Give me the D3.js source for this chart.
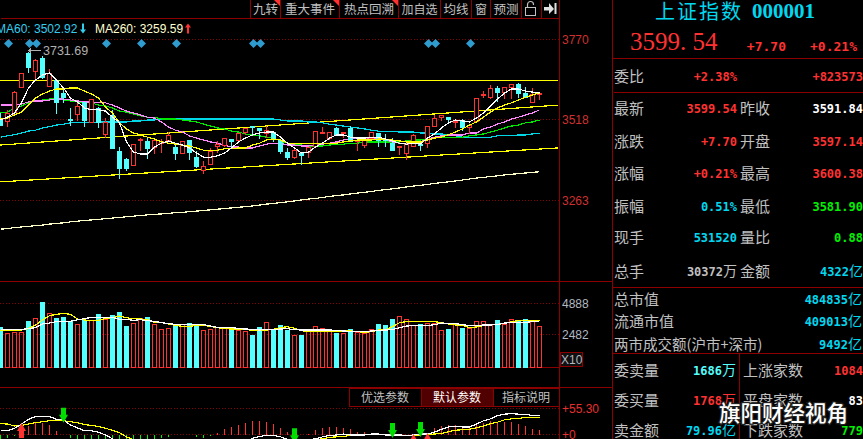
<!DOCTYPE html>
<html>
<head>
<meta charset="utf-8">
<title>上证指数 000001</title>
<script src="https://cdn.jsdelivr.net/npm/d3@7"></script>
<style>
  html, body { margin: 0; padding: 0; background: #000; overflow: hidden; }
  svg { display: block; }
  text { font-family: "Liberation Sans", sans-serif; }
  .cjk { font-family: "Noto Sans CJK SC", sans-serif; }
  .mono { font-family: "DejaVu Sans Mono", monospace; font-weight: bold; }
  .serif { font-family: "Liberation Serif", serif; }
</style>
</head>
<body>
<svg id="chart" width="863" height="439"></svg>
<script>
/* ── Daily candles, index points ───────────────────────────────────── */
const opens = [3516,3510,3532,3620,3727,3670,3711,3623,3639,3601,3519,3532,3570,3507,3551,3469,3529,3418,3393,3374,
  3450,3447,3428,3443,3453,3428,3409,3450,3399,3358,3377,3434,3437,3456,3450,3478,3494,3488,3472,3478,
  3450,3415,3399,3412,3415,3434,3472,3459,3488,3472,3488,3447,3437,3459,3472,3455,3443,3431,3412,3434,
  3439,3443,3494,3525,3525,3507,3513,3491,3510,3592,3588,3614,3604,3617,3629,3601,3570,3597.14];
const highs = [3541,3548,3610,3667,3731.69,3711,3718,3677,3648,3617,3554,3570,3573,3582,3557,3525,3548,3434,3399,3440,
  3462,3462,3453,3459,3481,3443,3447,3450,3421,3387,3428,3453,3462,3456,3475,3491,3494,3488,3500,3478,
  3459,3428,3425,3412,3428,3484,3497,3481,3494,3481,3500,3459,3462,3481,3475,3475,3462,3433,3453,3472,
  3447,3494,3532,3532,3525,3522,3522,3500,3585,3610,3629,3626,3617,3629,3633,3623,3620,3600.38];
const lows = [3500,3497,3529,3620,3667,3642,3648,3623,3535,3570,3500,3516,3494,3507,3491,3462,3425,3333,3358,3374,
  3421,3396,3409,3415,3453,3393,3409,3393,3365,3349,3377,3415,3431,3425,3447,3469,3472,3459,3462,3447,
  3409,3393,3396,3377,3399,3434,3472,3456,3469,3462,3447,3421,3428,3456,3431,3431,3421,3406,3390,3431,
  3421,3428,3494,3516,3507,3491,3484,3475,3507,3588,3585,3573,3585,3585,3588,3588,3570,3581.90];
const closes = [3500,3538,3604,3661,3680,3702,3651,3661,3570,3588,3514,3557,3513,3582,3507,3507,3425,3362,3362,3440,
  3456,3425,3450,3448,3466,3409,3447,3415,3368,3368,3418,3440,3459,3447,3472,3488,3491,3484,3484,3456,
  3418,3399,3421,3403,3428,3481,3478,3478,3469,3478,3447,3450,3459,3478,3450,3451,3421,3433,3440,3466,
  3437,3494,3522,3529,3517,3510,3491,3500,3585,3596,3614,3604,3617,3629,3601,3588,3595,3599.54];

/* ── Moving averages ───────────────────────────────────────────────── */
const ma5 = [3516,3525,3538,3570,3617,3642,3658,3664,3642,3617,3585,3573,3554,3548,3548,3544,3525,3507,3447,3415,
  3409,3409,3431,3443,3450,3443,3437,3428,3412,3399,3399,3403,3412,3428,3447,3459,3469,3475,3478,3478,
  3462,3443,3428,3412,3415,3431,3443,3459,3469,3469,3462,3459,3459,3462,3462,3456,3450,3443,3440,3443,
  3440,3459,3472,3491,3507,3516,3513,3510,3522,3538,3560,3582,3601,3614,3614,3607,3604,3601];
const ma10 = [3519,3522,3532,3541,3563,3585,3598,3607,3614,3614,3617,3617,3607,3598,3585,3557,3538,3507,3488,3475,
  3469,3462,3456,3447,3443,3440,3437,3434,3428,3421,3421,3421,3425,3425,3428,3428,3437,3443,3453,3456,
  3453,3443,3443,3443,3443,3443,3443,3443,3443,3447,3450,3453,3453,3453,3456,3456,3453,3450,3447,3447,
  3447,3453,3459,3462,3470,3478,3488,3500,3510,3525,3541,3554,3563,3570,3579,3588,3595,3601];
const ma20 = [3563,3563,3563,3566,3573,3576,3576,3579,3582,3582,3579,3576,3573,3573,3570,3570,3563,3554,3544,3538,
  3532,3525,3522,3510,3494,3484,3478,3466,3459,3453,3447,3443,3437,3431,3431,3428,3428,3434,3440,3443,
  3443,3437,3437,3434,3434,3437,3440,3443,3447,3453,3456,3459,3459,3459,3459,3453,3447,3443,3443,3443,
  3447,3456,3462,3466,3469,3469,3469,3475,3475,3488,3494,3503,3510,3519,3525,3532,3538,3548];
const ma30 = [3538,3541,3554,3560,3570,3576,3579,3582,3582,3579,3576,3573,3570,3570,3563,3560,3554,3544,3541,3535,
  3529,3525,3525,3519,3519,3519,3516,3513,3510,3503,3497,3491,3488,3481,3478,3472,3469,3466,3462,3459,
  3450,3443,3440,3437,3434,3434,3434,3437,3440,3440,3443,3443,3447,3447,3447,3447,3447,3447,3450,3453,
  3453,3456,3459,3462,3462,3462,3462,3466,3469,3472,3478,3484,3491,3497,3500,3507,3510,3516];
const ma60 = [3462,3466,3470,3475,3481,3484,3491,3495,3500,3503,3507,3507,3507,3507,3510,3510,3510,3510,3510,3513,
  3513,3516,3516,3519,3519,3519,3519,3519,3519,3519,3519,3519,3519,3519,3519,3519,3519,3519,3519,3519,
  3516,3513,3513,3513,3510,3510,3507,3503,3500,3497,3494,3491,3488,3484,3481,3481,3481,3478,3478,3478,
  3475,3475,3472,3472,3469,3466,3462,3462,3462,3462,3462,3466,3466,3466,3469,3469,3472,3475];
const ma260 = [3172,3174,3177,3179,3181,3183,3185,3188,3190,3192,3195,3197,3200,3201,3203,3205,3207,3209,3211,3213,
  3215,3217,3219,3220,3222,3224,3225,3227,3229,3231,3233,3235,3237,3239,3241,3243,3245,3248,3251,3253,
  3256,3258,3261,3264,3267,3269,3272,3275,3278,3280,3283,3286,3288,3291,3294,3297,3299,3302,3305,3308,
  3310,3313,3316,3319,3321,3324,3327,3330,3333,3335,3338,3340,3343,3345,3347,3349,3351,3353];

// straight lines the user drew on the chart: [price at left edge, price at right edge]
const trendTop = [3640, 3640];
const trendMid = [3437, 3563];
const trendLow = [3321, 3428];

/* ── Volume pane ───────────────────────────────────────────────────── */
const volumes = [3073,2591,2667,2667,3531,3734,4978,4115,3759,3835,3480,3277,3556,3556,4064,3658,3988,4216,3150,3353,
  3734,3835,3302,2896,2972,3226,3302,3353,3175,2845,2896,3023,2946,3023,2845,2769,2464,3073,3429,2845,
  3226,2845,2464,2464,2718,3150,2972,2718,2616,2591,2921,2642,2591,2921,3302,3226,3683,3912,3658,3226,
  3302,3353,3353,2845,2921,3277,2972,2972,3505,3505,3277,3607,3277,3658,3607,3683,3480,3150];
const volMaWhite = [2896,2896,2896,2896,2946,3023,3302,3378,3480,3505,3505,3632,3708,3810,3810,3810,3810,3658,3658,3581,
  3632,3556,3505,3404,3327,3277,3277,3251,3251,3251,3150,3048,3048,3048,2946,2921,2896,2845,2870,2870,
  2921,2946,2870,2845,2845,2845,2845,2845,2819,2769,2743,2718,2718,2769,2819,2845,2870,3023,3150,3175,
  3175,3175,3251,3378,3353,3327,3251,3175,3200,3226,3226,3277,3378,3404,3429,3429,3480,3505];
const volMaYellow = [2819,2794,2845,2845,2946,3226,3607,3937,4039,4115,4039,3683,3607,3556,3581,3734,3785,3912,3785,3708,
  3683,3658,3429,3404,3302,3200,3124,3124,3200,3200,3124,3023,2946,2921,2921,2896,2819,2819,2845,2896,
  3023,3099,2972,2794,2718,2718,2718,2718,2718,2769,2769,2718,2667,2718,2845,2845,3099,3404,3480,3480,
  3480,3480,3480,3404,3302,3226,3200,3023,3073,3175,3251,3277,3353,3480,3556,3556,3556,3556];

/* ── MACD pane ─────────────────────────────────────────────────────── */
const macdBars = [-12,-8,-3,3,18,27,25,20,7,-1,-8,-12,-18,-24,-28,-30,-34,-32,-28,-24,
  -18,-14,-9,-8,-5,-2,-1,-1,-5,-7,-3,3,11,16,20,24,28,28,26,22,
  14,5,2,-1,1,9,13,15,16,14,11,6,6,4,4,2,1,0,0,-1,
  -1,1,13,18,19,19,16,16,20,25,29,25,27,27,23,18,11,9];
const macdDif = [8,8,13,22,32,38,38,38,32,31,20,14,8,8,5,-1,-9,-18,-28,-38,
  -44,-48,-49,-46,-42,-40,-40,-38,-38,-38,-36,-32,-28,-24,-20,-15,-8,-4,-2,-2,
  -5,-10,-12,-12,-11,-9,-5,-2,-1,1,-1,-1,-1,1,1,-1,-1,-1,-2,-1,
  1,1,5,11,16,17,16,16,22,29,33,40,43,44,43,43,40,40];
const macdDea = [23,22,18,19,22,25,27,29,30,29,27,25,21,19,17,13,9,4,-5,-11,
  -16,-20,-24,-28,-30,-32,-34,-35,-36,-36,-36,-36,-35,-34,-32,-30,-28,-26,-24,-22,
  -20,-18,-17,-15,-13,-11,-9,-6,-5,-4,-2,-1,-1,0,0,-1,-1,-1,-2,-2,
  -1,0,1,2,6,9,10,11,14,18,23,26,31,33,34,36,36,36];
const macdSellAt = [9, 42, 56, 60];
const macdBuyAt = [3, 59, 61];

// candle indexes carrying a blue diamond event marker
const eventAt = [1, 4, 5, 15, 20, 25, 36, 37, 61, 62, 67];

/* ── Tick labels and texts ─────────────────────────────────────────── */
const priceTicks = [3770, 3518, 3263];
const volTicks = [4888, 2482];
const macdTicks = [55.30, 0];
const toolbarNames = ['九转', '重大事件', '热点回溯', '加自选', '均线', '窗', '预测'];
const paneTabs = ['优选参数', '默认参数', '指标说明'];
const quoteRows = ['最新', '涨跌', '涨幅', '振幅', '现手', '总手'];
const quoteLeft = ['3599.54', '+7.70', '+0.21%', '0.51%', '531520', '30372万'];
const quoteRight = ['昨收', '开盘', '最高', '最低', '量比', '金额'];
const quoteRightVals = ['3591.84', '3597.14', '3600.38', '3581.90', '0.88', '4322亿'];
const marketRows = ['总市值', '流通市值', '两市成交额(沪市+深市)'];
const marketVals = ['484835亿', '409013亿', '9492亿'];
const orderRows = ['委卖量', '委买量', '卖金额'];
const orderVals = ['1686万', '1768万', '79.96亿'];
const breadthRows = ['上涨家数', '平盘家数', '下跌家数'];
const breadthVals = ['1084', '83', '779'];

/* ── Colours ───────────────────────────────────────────────────────── */
const RED = '#ff3232', CYAN = '#54ffff', FRAME = '#8c0000', DOT = '#8c0000',
      GREY = '#c0c0c0', BLUE = '#00d8f0', GREEN = '#00f000', YELLOW = '#ffff00';

const svg = d3.select('#chart');

/* ── Scales ────────────────────────────────────────────────────────── */
const x = d3.scaleLinear().domain([0, 77]).range([0.5, 539.5]);
const yPrice = d3.scaleLinear().domain([3263, 3770]).range([200.3, 39.4]);
const yVol = d3.scaleLinear().domain([0, 4928]).range([367.3, 302.7]);
const yMacd = d3.scaleLinear().domain([0, 55.30]).range([434.5, 408.3]);
const CHART_R = 559, SIDE_L = 612;
const snap = v => Math.round(v - 0.5) + 0.5;

/* ── Frame ─────────────────────────────────────────────────────────── */
function rule(x1, y1, x2, y2, color) {
  svg.append('line').attr('x1', x1).attr('y1', y1).attr('x2', x2).attr('y2', y2)
    .attr('stroke', color || FRAME).attr('shape-rendering', 'crispEdges');
}
rule(0.5, 18.5, CHART_R, 18.5);
rule(0, 281.5, SIDE_L, 281.5);
rule(0, 387.5, SIDE_L, 387.5);
rule(CHART_R + 0.5, 0, CHART_R + 0.5, 439);
rule(SIDE_L + 0.5, 0, SIDE_L + 0.5, 439);
rule(SIDE_L, 58.5, 863, 58.5);
rule(SIDE_L + 2, 92.5, 863, 92.5);
rule(SIDE_L, 287.5, 863, 287.5);
rule(SIDE_L, 353.5, 863, 353.5);
rule(739.5, 353.5, 739.5, 439);

function gridRows(ticks, scale) {
  svg.append('g').selectAll('line').data(ticks).join('line')
    .attr('x1', 0).attr('x2', CHART_R)
    .attr('y1', d => snap(scale(d))).attr('y2', d => snap(scale(d)))
    .attr('stroke', DOT).attr('stroke-dasharray', '1 2')
    .attr('shape-rendering', 'crispEdges');
}
gridRows(priceTicks, yPrice);
gridRows(volTicks, yVol);
gridRows(macdTicks, yMacd);

/* ── Toolbar ───────────────────────────────────────────────────────── */
const toolbarEdges = [250, 280, 339, 398, 440, 471, 490, 521, 541, 559];
const toolbar = svg.append('g');
toolbar.selectAll('line').data(toolbarEdges).join('line')
  .attr('x1', d => d + 0.5).attr('x2', d => d + 0.5).attr('y1', 0).attr('y2', 18)
  .attr('stroke', FRAME).attr('shape-rendering', 'crispEdges');
toolbar.selectAll('text').data(toolbarNames).join('text')
  .attr('class', 'cjk')
  .attr('x', (d, i) => (toolbarEdges[i] + toolbarEdges[i + 1]) / 2 + 0.5)
  .attr('y', 14).attr('text-anchor', 'middle')
  .attr('font-size', (d, i) => i === 3 || i === 5 ? 12 : 12.5)
  .attr('fill', GREY).text(d => d);
// red corner flags on the first three buttons
toolbar.selectAll('path.flag').data(toolbarEdges.slice(1, 4)).join('path')
  .attr('class', 'flag')
  .attr('d', d => `M${d - 6},0L${d},0L${d},6Z`).attr('fill', RED);
// lock and "hide panel" icons
toolbar.append('path')
  .attr('d', 'M527.5,7V4.5a3,3 0 0 1 6,0V5')
  .attr('fill', 'none').attr('stroke', GREY).attr('stroke-width', 1.2);
toolbar.append('rect').attr('x', 525.5).attr('y', 7.5).attr('width', 10).attr('height', 8)
  .attr('fill', 'none').attr('stroke', GREY).attr('shape-rendering', 'crispEdges');
toolbar.append('path')
  .attr('d', 'M544,7H549V3L554,9L549,14V10.5H544ZM554.5,3H556.5V14H554.5Z').attr('fill', '#e0e0e0');

/* ── Legend row and the high marker ────────────────────────────────── */
function arrow(g, cx, tip, dir, color, head, headLen, shaft, len) {
  const s = dir === 'down' ? -1 : 1;
  g.append('path')
    .attr('d', `M${cx},${tip}L${cx + head},${tip + s * headLen}L${cx + shaft},${tip + s * headLen}` +
      `L${cx + shaft},${tip + s * len}L${cx - shaft},${tip + s * len}L${cx - shaft},${tip + s * headLen}` +
      `L${cx - head},${tip + s * headLen}Z`)
    .attr('fill', color);
}
const legend = svg.append('g').attr('font-size', 12);
legend.append('text').attr('x', -4).attr('y', 33).attr('fill', '#33ccee').text('MA60: 3502.92');
arrow(legend, 83, 33.5, 'down', '#33ccee', 3, 4, 1, 10);
legend.append('text').attr('x', 95).attr('y', 33).attr('fill', '#ffffd0').text('MA260: 3259.59');
arrow(legend, 188, 23.5, 'up', RED, 3, 4, 1, 10);

svg.append('path').attr('d', 'M28.5,50.5H41M28.5,50.5L31,48.5M28.5,50.5L31,52.5')
  .attr('stroke', '#b0b0b0').attr('fill', 'none').attr('shape-rendering', 'crispEdges');
svg.append('text').attr('x', 43).attr('y', 54.5).attr('font-size', 12.5).attr('fill', '#b0b0b0').text('3731.69');

svg.append('g').selectAll('path').data(eventAt).join('path')
  .attr('transform', d => `translate(${x(d) + 1},43.5)`)
  .attr('d', 'M0,-4.5L4.5,0L0,4.5L-4.5,0Z').attr('fill', '#2f9ccf');

/* ── Price pane ────────────────────────────────────────────────────── */
const priceLine = d3.line().x((d, i) => x(i)).y(d => yPrice(d));
const maSeries = [
  { values: ma260, color: '#ffffc8' },
  { values: ma60, color: '#00d8e8' },
  { values: ma30, color: '#00e800' },
  { values: ma20, color: '#ff88ff' }
];
const price = svg.append('g');
// hand-drawn channel
[trendTop, trendMid, trendLow].forEach(t => {
  price.append('line')
    .attr('x1', 0).attr('x2', CHART_R - 1)
    .attr('y1', yPrice(t[0])).attr('y2', yPrice(t[1]))
    .attr('stroke', YELLOW).attr('stroke-width', 1.2).attr('shape-rendering', 'crispEdges');
});
price.selectAll('path.ma').data(maSeries).join('path')
  .attr('class', 'ma')
  .attr('d', d => priceLine(d.values))
  .attr('fill', 'none').attr('stroke', d => d.color)
  .attr('stroke-width', 1.2).attr('shape-rendering', 'crispEdges');

const candles = closes.map((c, i) => ({ i, o: opens[i], h: highs[i], l: lows[i], c, up: c >= opens[i] }));
const candle = price.selectAll('g.candle').data(candles).join('g').attr('class', 'candle');
candle.append('path')
  .attr('d', d => {
    const top = snap(yPrice(Math.max(d.o, d.c))), bot = snap(yPrice(Math.min(d.o, d.c)));
    return `M${x(d.i)},${snap(yPrice(d.h))}V${top}M${x(d.i)},${bot}V${snap(yPrice(d.l))}`;
  })
  .attr('stroke', d => d.up ? RED : CYAN).attr('fill', 'none').attr('shape-rendering', 'crispEdges');
candle.append('rect')
  .attr('x', d => x(d.i) - 2)
  .attr('y', d => snap(yPrice(Math.max(d.o, d.c))))
  .attr('width', 4)
  .attr('height', d => Math.max(1, snap(yPrice(Math.min(d.o, d.c))) - snap(yPrice(Math.max(d.o, d.c)))))
  .attr('fill', d => d.up ? '#000' : CYAN)
  .attr('stroke', d => d.up ? RED : CYAN)
  .attr('shape-rendering', 'crispEdges');

// short averages run over the candles
price.selectAll('path.ma-short').data([{ values: ma10, color: YELLOW }, { values: ma5, color: '#ffffff' }]).join('path')
  .attr('class', 'ma-short')
  .attr('d', d => priceLine(d.values))
  .attr('fill', 'none').attr('stroke', d => d.color)
  .attr('stroke-width', 1.2).attr('shape-rendering', 'crispEdges');

/* ── Volume pane ───────────────────────────────────────────────────── */
const vol = svg.append('g');
vol.append('line').attr('x1', 0).attr('x2', CHART_R).attr('y1', 367.5).attr('y2', 367.5)
  .attr('stroke', FRAME).attr('shape-rendering', 'crispEdges');
vol.selectAll('rect').data(volumes).join('rect')
  .attr('x', (d, i) => x(i) - 2)
  .attr('y', d => snap(yVol(d)))
  .attr('width', 4)
  .attr('height', d => 367 - snap(yVol(d)))
  .attr('fill', (d, i) => candles[i].up ? 'none' : CYAN)
  .attr('stroke', (d, i) => candles[i].up ? RED : CYAN)
  .attr('shape-rendering', 'crispEdges');
const volLine = d3.line().x((d, i) => x(i)).y(d => yVol(d));
[[volMaYellow, YELLOW], [volMaWhite, '#ffffff']].forEach(([values, color]) => {
  vol.append('path').attr('d', volLine(values)).attr('fill', 'none')
    .attr('stroke', color).attr('stroke-width', 1.2).attr('shape-rendering', 'crispEdges');
});

/* ── MACD pane ─────────────────────────────────────────────────────── */
const macd = svg.append('g');
macd.selectAll('line').data(macdBars).join('line')
  .attr('x1', (d, i) => x(i)).attr('x2', (d, i) => x(i))
  .attr('y1', yMacd(0)).attr('y2', d => yMacd(d))
  .attr('stroke', d => d >= 0 ? RED : GREEN)
  .attr('shape-rendering', 'crispEdges');
const macdLine = d3.line().x((d, i) => x(i)).y(d => yMacd(d));
[[macdDea, YELLOW], [macdDif, '#ffffff']].forEach(([values, color]) => {
  macd.append('path').attr('d', macdLine(values)).attr('fill', 'none')
    .attr('stroke', color).attr('stroke-width', 1.2).attr('shape-rendering', 'crispEdges');
});
macdSellAt.forEach(i => arrow(macd, x(i), yMacd(macdDif[i]) + 3, 'down', '#00dd00', 4.5, 8, 2.5, 15));
macdBuyAt.forEach(i => arrow(macd, x(i), yMacd(macdDif[i]) - 1, 'up', RED, 4.5, 8, 2.5, 15));

// parameter tabs
const tabEdges = [349, 421, 493, 559];
const tabs = svg.append('g');
tabs.selectAll('rect').data(paneTabs).join('rect')
  .attr('x', (d, i) => tabEdges[i] + 0.5).attr('y', 388.5)
  .attr('width', (d, i) => tabEdges[i + 1] - tabEdges[i]).attr('height', 18)
  .attr('fill', (d, i) => i === 1 ? '#500000' : '#000')
  .attr('stroke', FRAME).attr('shape-rendering', 'crispEdges');
tabs.selectAll('text').data(paneTabs).join('text')
  .attr('class', 'cjk')
  .attr('x', (d, i) => (tabEdges[i] + tabEdges[i + 1]) / 2)
  .attr('y', 402).attr('text-anchor', 'middle').attr('font-size', 12)
  .attr('fill', (d, i) => i === 1 ? '#ffffff' : GREY).text(d => d);

/* ── Right axes ────────────────────────────────────────────────────── */
function rightAxis(scale, ticks, format, color) {
  const g = svg.append('g').attr('transform', `translate(${CHART_R},0)`)
    .call(d3.axisRight(scale).tickValues(ticks).tickSize(0).tickPadding(3).tickFormat(format));
  g.select('.domain').remove();
  g.selectAll('text').attr('font-size', 12).attr('fill', color);
}
rightAxis(yPrice, priceTicks, d3.format('d'), '#d03030');
rightAxis(yVol, volTicks, d3.format('d'), '#b0b8c0');
rightAxis(yMacd, macdTicks, d => d ? '+' + d.toFixed(2) : '+0', '#e83030');
svg.append('rect').attr('x', 560.5).attr('y', 352.5).attr('width', 22).attr('height', 14)
  .attr('fill', '#101010').attr('stroke', FRAME).attr('shape-rendering', 'crispEdges');
svg.append('text').attr('x', 561).attr('y', 364).attr('font-size', 12).attr('fill', '#b0b8c0').text('X10');

/* ── Quote panel ───────────────────────────────────────────────────── */
const side = svg.append('g');
side.append('text').attr('class', 'cjk').attr('x', 655).attr('y', 19)
  .attr('font-size', 20).attr('letter-spacing', 2).attr('fill', BLUE).text('上证指数');
side.append('text').attr('class', 'serif').attr('x', 752).attr('y', 18).attr('font-size', 21)
  .attr('font-weight', 'bold').attr('fill', BLUE).text('000001');
side.append('text').attr('class', 'serif').attr('x', 630).attr('y', 50).attr('font-size', 25)
  .attr('fill', RED).attr('xml:space', 'preserve').text('3599. 54');

function label(txt, lx, y, size) {
  side.append('text').attr('class', 'cjk').attr('x', lx).attr('y', y + 5.5)
    .attr('font-size', size || 15).attr('fill', GREY).text(txt);
}
function value(txt, rx, y, color, size) {
  // digits in mono, the CJK unit stays a thin glyph
  const t = side.append('text').attr('x', rx).attr('y', y + 4.5)
    .attr('text-anchor', 'end').attr('fill', color).attr('font-size', size || 12);
  const m = txt.match(/^([^万亿]*)([万亿]?)$/);
  t.append('tspan').attr('class', 'mono').text(m[1]);
  if (m[2]) t.append('tspan').attr('class', 'cjk').attr('font-size', 14).text(m[2]);
}
value('+7.70', 786, 46, RED, 13);
value('+0.21%', 857, 46, RED, 13);
label('委比', 614, 76.5);
value('+2.38%', 737, 76.5, RED);
value('+823573', 863, 76.5, RED);

const quoteY = [108, 141.7, 173, 206.7, 237.3, 271.7];
const quoteLeftColors = [RED, RED, RED, BLUE, BLUE, GREY];
const quoteRightColors = ['#ffffff', RED, RED, GREEN, GREEN, BLUE];
quoteRows.forEach((name, i) => {
  label(name, 614, quoteY[i]);
  value(quoteLeft[i], 737, quoteY[i], quoteLeftColors[i]);
  label(quoteRight[i], 740, quoteY[i]);
  value(quoteRightVals[i], 863, quoteY[i], quoteRightColors[i]);
});
const marketY = [299.3, 321, 344];
marketRows.forEach((name, i) => {
  label(name, 614, marketY[i], i === 2 ? 14.5 : 15);
  value(marketVals[i], 862, marketY[i], BLUE);
});
const orderY = [370.7, 400, 430.7];
const orderColors = [CYAN, RED, BLUE];
const breadthColors = [RED, '#ffffff', GREEN];
orderRows.forEach((name, i) => {
  label(name, 614, orderY[i]);
  value(orderVals[i], 736, orderY[i], orderColors[i]);
  label(breadthRows[i], 743, orderY[i]);
  value(breadthVals[i], 863, orderY[i], breadthColors[i]);
});

/* ── Watermark ─────────────────────────────────────────────────────── */
svg.append('text').attr('class', 'cjk').attr('x', 719).attr('y', 421)
  .attr('font-size', 21.5).attr('font-weight', 500).attr('fill', '#ffffff')
  .attr('stroke', '#202020').attr('stroke-width', 2.5).attr('paint-order', 'stroke')
  .text('旗阳财经视角');
</script>
</body>
</html>
